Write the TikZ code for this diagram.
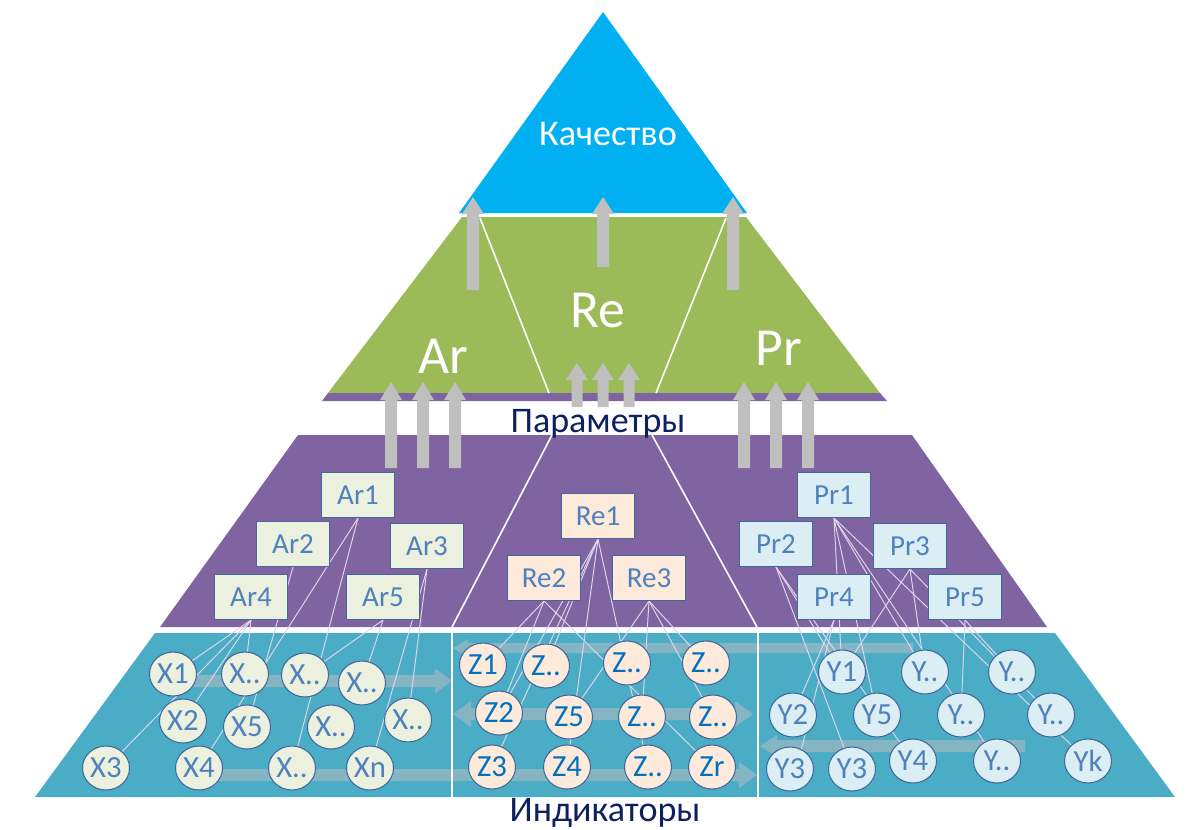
\documentclass[tikz,border=0pt]{standalone}
\usepackage{fontspec}
\setmainfont{Carlito}
\usetikzlibrary{shapes.geometric}
\definecolor{cBlue}{HTML}{00B0F0}
\definecolor{cGreen}{HTML}{9BBB59}
\definecolor{cPurple}{HTML}{8064A2}
\definecolor{cTeal}{HTML}{4BACC6}
\definecolor{cGray}{HTML}{BFBFBF}
\definecolor{cNavy}{HTML}{0F2060}
\definecolor{cBorder}{HTML}{41689A}
\definecolor{cText}{HTML}{4F81BD}
\definecolor{cZText}{HTML}{0070C0}
\definecolor{cArFill}{HTML}{EBF1DE}
\definecolor{cReFill}{HTML}{FDEADA}
\definecolor{cPrFill}{HTML}{DBEEF4}
\definecolor{cLine}{HTML}{DDD5EA}
\pgfdeclarelayer{back}
\pgfdeclarelayer{lines}
\pgfsetlayers{back,lines,main}
% x, ybottom, ytip, shaft half width, head half width, head length
\newcommand{\garrowup}[6]{%
  \fill[cGray] ({#1-#4},#2) -- ({#1-#4},{#3+#6}) -- ({#1-#5},{#3+#6}) -- (#1,#3) -- ({#1+#5},{#3+#6}) -- ({#1+#4},{#3+#6}) -- ({#1+#4},#2) -- cycle;}
% xtail, xtip, y, sw, hw, hl
\newcommand{\farrowR}[6]{%
  \fill[cGray,opacity=0.5] (#1,{#3-#4}) -- ({#2-#6},{#3-#4}) -- ({#2-#6},{#3-#5}) -- (#2,#3) -- ({#2-#6},{#3+#5}) -- ({#2-#6},{#3+#4}) -- (#1,{#3+#4}) -- cycle;}
\newcommand{\farrowL}[6]{%
  \fill[cGray,opacity=0.5] (#1,{#3-#4}) -- ({#2+#6},{#3-#4}) -- ({#2+#6},{#3-#5}) -- (#2,#3) -- ({#2+#6},{#3+#5}) -- ({#2+#6},{#3+#4}) -- (#1,{#3+#4}) -- cycle;}
\newcommand{\farrowLR}[6]{%
  \fill[cGray,opacity=0.5] (#1,#3) -- ({#1+#6},{#3-#5}) -- ({#1+#6},{#3-#4}) -- ({#2-#6},{#3-#4}) -- ({#2-#6},{#3-#5}) -- (#2,#3) -- ({#2-#6},{#3+#5}) -- ({#2-#6},{#3+#4}) -- ({#1+#6},{#3+#4}) -- ({#1+#6},{#3+#5}) -- cycle;}
\begin{document}
\begin{tikzpicture}[x=0.02cm,y=-0.02cm,
  boxnode/.style={draw=cBorder,line width=0.6pt,minimum width=1.46cm,minimum height=0.9cm,inner sep=0pt,text=cText,font=\fontsize{16.5}{19}\selectfont},
  arbox/.style={boxnode,fill=cArFill},
  rebox/.style={boxnode,fill=cReFill},
  prbox/.style={boxnode,fill=cPrFill},
  ind/.style={ellipse,draw=cBorder,line width=0.6pt,minimum width=0.94cm,minimum height=0.88cm,inner sep=0pt,font=\fontsize{17.5}{20}\selectfont},
  xind/.style={ind,fill=cArFill,text=cText},
  zind/.style={ind,fill=cReFill,text=cZText},
  yind/.style={ind,fill=cPrFill,text=cText},
  conn/.style={draw=cLine,line width=0.55pt},
  sep/.style={draw=white,line width=0.9pt},
  bigw/.style={text=white,anchor=base,inner sep=0pt,font=\fontsize{30.5}{35}\selectfont},
  topw/.style={text=white,anchor=base,inner sep=0pt,font=\fontsize{20.6}{24}\selectfont},
  lvl/.style={text=cNavy,anchor=base,inner sep=0pt,font=\fontsize{20.5}{24}\selectfont}
]
\useasboundingbox (0,0) rectangle (1187,829);

\begin{pgfonlayer}{back}
% layers of the pyramid
\fill[cBlue] (603,12) -- (747,213) -- (459,213) -- cycle;
\fill[cGreen] (462,217) -- (746,217) -- (880,393) -- (328,393) -- cycle;
\fill[cPurple] (328,393) -- (880,393) -- (887,401) -- (322,401) -- cycle;
\fill[cPurple] (298,435) -- (912,435) -- (1047,627) -- (160,627) -- cycle;
\fill[cTeal] (155,633) -- (1055,633) -- (1175,797) -- (35,797) -- cycle;
% faded arrows
\farrowR{175}{452}{681}{6}{12.5}{17}
\farrowR{200}{757}{775}{6}{13}{18}
\farrowL{913}{453}{648}{5}{9}{15}
\farrowLR{453}{753}{714}{6}{13}{18}
\farrowL{1025}{760}{746}{6}{11}{17}
% white separators
\draw[sep] (480,218) -- (549,393);
\draw[sep] (726,218) -- (656,393);
\draw[sep] (552,435) -- (452,627);
\draw[sep] (652,435) -- (757,627);
\draw[white,line width=1.3pt] (452,633) -- (452,797);
\draw[white,line width=1.3pt] (758,633) -- (758,797);
\end{pgfonlayer}

% parameter boxes
\node[arbox] (Ar1) at (358,495) {Ar1};
\node[arbox] (Ar2) at (293,544) {Ar2};
\node[arbox] (Ar3) at (427,546) {Ar3};
\node[arbox] (Ar4) at (251,597) {Ar4};
\node[arbox] (Ar5) at (383,597) {Ar5};
\node[rebox] (Re1) at (598,516) {Re1};
\node[rebox] (Re2) at (544,578) {Re2};
\node[rebox] (Re3) at (649,578) {Re3};
\node[prbox] (Pr1) at (834,495) {Pr1};
\node[prbox] (Pr2) at (776,544) {Pr2};
\node[prbox] (Pr3) at (910,546) {Pr3};
\node[prbox] (Pr4) at (834,597) {Pr4};
\node[prbox] (Pr5) at (965,597) {Pr5};

% indicators X
\node[xind] (X1) at (173,674) {X1};
\node[xind] (Xa) at (245,674) {X..};
\node[xind] (Xb) at (305,675) {X..};
\node[xind] (Xc) at (362,683) {X..};
\node[xind] (X2) at (183,721) {X2};
\node[xind] (X5) at (247,727) {X5};
\node[xind] (Xd) at (331,727) {X..};
\node[xind] (Xe) at (408,720) {X..};
\node[xind] (X3) at (106,768) {X3};
\node[xind] (X4) at (199,768) {X4};
\node[xind] (Xf) at (292,768) {X..};
\node[xind] (Xn) at (370,768) {Xn};
% indicators Z
\node[zind] (Z1) at (483,665) {Z1};
\node[zind] (Za) at (546,666) {Z..};
\node[zind] (Zb) at (627,663) {Z..};
\node[zind] (Zc) at (706,663) {Z..};
\node[zind] (Z2) at (499,713) {Z2};
\node[zind] (Z5) at (569,717) {Z5};
\node[zind] (Zd) at (642,717) {Z..};
\node[zind] (Ze) at (713,717) {Z..};
\node[zind] (Z3) at (492,767) {Z3};
\node[zind] (Z4) at (567,767) {Z4};
\node[zind] (Zf) at (648,767) {Z..};
\node[zind] (Zr) at (712,767) {Zr};
% indicators Y
\node[yind] (Y1) at (842,672) {Y1};
\node[yind] (Ya) at (925,672) {Y..};
\node[yind] (Yb) at (1012,672) {Y..};
\node[yind] (Y2) at (793,715) {Y2};
\node[yind] (Y5) at (877,715) {Y5};
\node[yind] (Yc) at (961,715) {Y..};
\node[yind] (Yd) at (1051,715) {Y..};
\node[yind] (Y3a) at (790,769) {Y3};
\node[yind] (Y3b) at (852,769) {Y3};
\node[yind] (Y4) at (913,761) {Y4};
\node[yind] (Ye) at (997,761) {Y..};
\node[yind] (Yk) at (1088,761) {Yk};

\begin{pgfonlayer}{lines}
\draw[conn] (Ar4.south) -- (X1.center);
\draw[conn] (Ar4.south) -- (X2.center);
\draw[conn] (Ar4.south) -- (X3.center);
\draw[conn] (Ar4.south) -- (Xa.center);
\draw[conn] (Ar1.south) -- (X4.center);
\draw[conn] (Ar1.south) -- (Xf.center);
\draw[conn] (Ar2.south) -- (X5.center);
\draw[conn] (Ar5.south) -- (Xb.center);
\draw[conn] (Ar5.south) -- (Xc.center);
\draw[conn] (Ar3.south) -- (Xe.center);
\draw[conn] (Ar3.south) -- (Xn.center);
\draw[conn] (Re1.south) -- (Za.center);
\draw[conn] (Re1.south) -- (Z2.center);
\draw[conn] (Re1.south) -- (Z3.center);
\draw[conn] (Re1.south) -- (Z4.center);
\draw[conn] (Re1.south) -- (Zf.center);
\draw[conn] (Re2.south) -- (Z1.center);
\draw[conn] (Re2.south) -- (Z2.center);
\draw[conn] (Re2.south) -- (Zr.center);
\draw[conn] (Re3.south) -- (Z5.center);
\draw[conn] (Re3.south) -- (Zd.center);
\draw[conn] (Re3.south) -- (Zc.center);
\draw[conn] (Re3.south) -- (Ze.center);
\draw[conn] (Pr1.south) -- (Y1.center);
\draw[conn] (Pr1.south) -- (Y5.center);
\draw[conn] (Pr1.south) -- (Ya.center);
\draw[conn] (Pr1.south) -- (Ye.center);
\draw[conn] (Pr1.south) -- (Yk.center);
\draw[conn] (Pr2.south) -- (Y1.center);
\draw[conn] (Pr2.south) -- (Y3b.center);
\draw[conn] (Pr2.south) -- (Y4.center);
\draw[conn] (Pr3.south) -- (Y1.center);
\draw[conn] (Pr3.south) -- (Ya.center);
\draw[conn] (Pr3.south) -- (Yd.center);
\draw[conn] (Pr4.south) -- (Y2.center);
\draw[conn] (Pr4.south) -- (Y3a.60);
\draw[conn] (Pr5.south) -- (Yc.center);
\draw[conn] (Pr5.south) -- (Yb.center);
\end{pgfonlayer}

% gray block arrows
\garrowup{473}{290}{197}{6}{11}{17}
\garrowup{603}{267}{197}{6}{11}{17}
\garrowup{733}{290}{197}{6}{11}{17}
\garrowup{577}{407}{363}{5.5}{11}{17}
\garrowup{603}{407}{363}{5.5}{11}{17}
\garrowup{629}{407}{363}{5.5}{11}{17}
\garrowup{391}{468}{382}{6}{11}{18}
\garrowup{423}{468}{382}{6}{11}{18}
\garrowup{455}{468}{382}{6}{11}{18}
\garrowup{744}{468}{382}{6}{11}{18}
\garrowup{776}{468}{382}{6}{11}{18}
\garrowup{808}{468}{382}{6}{11}{18}

% texts
\node[topw] (tQ) at (608,145) {Качество};
\node[bigw] (tAr) at (443,373) {Ar};
\node[bigw] (tRe) at (598,327) {Re};
\node[bigw] (tPr) at (779,365) {Pr};
\node[lvl] (tPar) at (598,432) {Параметры};
\node[lvl] (tInd) at (605,821) {Индикаторы};
\end{tikzpicture}
\end{document}
